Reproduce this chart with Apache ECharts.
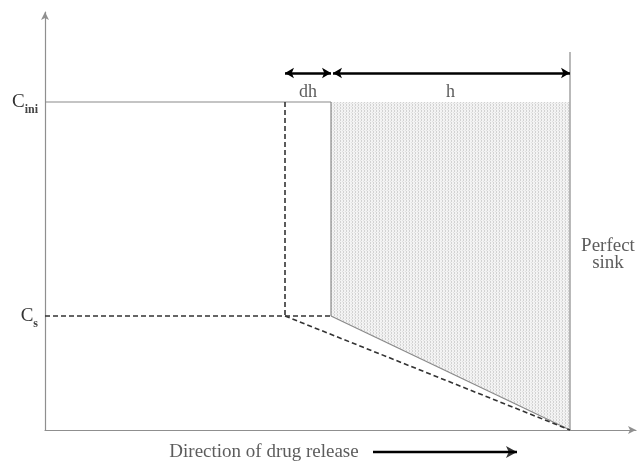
<!DOCTYPE html>
<html>
<head>
<meta charset="utf-8">
<script src="https://cdn.jsdelivr.net/npm/echarts@6/dist/echarts.min.js"></script>
<style>html,body{margin:0;padding:0;background:#fff;}#c{width:639px;height:462px;}</style>
</head>
<body>
<div id="c"></div>
<script>
// ---- data (diagram units) ----
const yTickValues = [114, 328];            // C_s, C_ini
const yTickLabels = ['s', 'ini'];          // subscripts of C
const xBoundaries = [240, 286, 525];       // previous front, current front, perfect sink
const shadeX = [286, 525, 525, 286];
const shadeY = [328, 328, 0, 114];
const sinkTop = 378;
const arrowLevel = 357;
const labelLevel = 338;
const arrowDirY = -22;
const arrowDirX = [328, 472];
const textLabels = ['dh', 'h', 'Perfect\nsink', 'Direction of drug release'];

const cIni = yTickValues[1], cS = yTickValues[0];
const [xPrev, xFront, xSink] = xBoundaries;

// dotted texture
const pc = document.createElement('canvas');
pc.width = 3; pc.height = 3;
const pctx = pc.getContext('2d');
pctx.fillStyle = '#f3f3f3'; pctx.fillRect(0, 0, 3, 3);
pctx.fillStyle = '#d2d2d2'; pctx.fillRect(1, 0, 1, 1); pctx.fillRect(1, 2, 1, 1);
pctx.fillStyle = '#e0e0e0'; pctx.fillRect(0, 1, 1, 1);

const chart = echarts.init(document.getElementById('c'), null, {renderer: 'canvas'});
const FONT = 'Liberation Serif';
const solid = {color: '#8a8a8a', width: 1.2, type: 'solid'};
const dashed = {color: '#333', width: 1.6, type: [5, 3]};

function seg(points, style) {
  return {type: 'line', data: points, symbol: 'none', lineStyle: style, z: 3, clip: false, silent: true};
}

chart.setOption({
  animation: false,
  grid: {left: 45, right: 3, top: 12, bottom: 32},
  xAxis: {
    type: 'value', min: 0, max: 591,
    axisLine: {show: true, lineStyle: {color: '#8f8f8f', width: 1.2}, symbol: ['none', 'arrow'], symbolSize: [6, 8]},
    axisTick: {show: false}, axisLabel: {show: false}, splitLine: {show: false}
  },
  yAxis: {
    type: 'value', min: 0, max: 418,
    axisLine: {show: true, lineStyle: {color: '#8f8f8f', width: 1.2}, symbol: ['none', 'arrow'], symbolSize: [6, 8]},
    axisTick: {show: false}, splitLine: {show: false},
    axisLabel: {
      show: true, margin: 7, customValues: yTickValues,
      formatter: v => '{c|C}{s|' + yTickLabels[yTickValues.indexOf(v)] + '}',
      rich: {
        c: {fontFamily: FONT, fontSize: 19, color: '#333', verticalAlign: 'bottom', lineHeight: 20},
        s: {fontFamily: FONT, fontSize: 12, fontWeight: 'bold', color: '#444', verticalAlign: 'bottom', lineHeight: 16, padding: [0, 0, -4, 0]}
      }
    }
  },
  series: [
    {
      type: 'custom', silent: true, z: 1,
      renderItem: (params, api) => {
        const pts = shadeX.map((x, i) => api.coord([x, shadeY[i]]));
        return {type: 'polygon', shape: {points: pts}, style: {fill: {image: pc, repeat: 'repeat'}, stroke: null}};
      },
      data: [0]
    },
    seg([[0, cIni], [xFront, cIni]], solid),
    seg([[xFront, cIni], [xFront, cS]], solid),
    seg([[xFront, cS], [xSink, 0]], solid),
    seg([[xSink, 0], [xSink, sinkTop]], solid),
    seg([[0, cS], [xFront, cS]], dashed),
    seg([[xPrev, cIni], [xPrev, cS]], dashed),
    seg([[xPrev, cS], [xSink, 0]], dashed),
    {
      type: 'line', data: [], clip: false, silent: true,
      markLine: {
        silent: true, symbol: ['arrow', 'arrow'], symbolSize: [8, 9],
        label: {show: false},
        lineStyle: {color: '#000', width: 2.5, type: 'solid'},
        data: [
          [{coord: [xPrev, arrowLevel]}, {coord: [xFront, arrowLevel]}],
          [{coord: [xFront + 2, arrowLevel]}, {coord: [xSink, arrowLevel]}]
        ]
      }
    },
    seg([[arrowDirX[0], arrowDirY], [arrowDirX[1], arrowDirY]], {color: '#000', width: 2.6, type: 'solid'}),
    {
      type: 'scatter', clip: false, silent: true, z: 4,
      symbol: 'arrow', symbolSize: [9, 11], symbolRotate: -90,
      itemStyle: {color: '#000'},
      data: [[arrowDirX[1], arrowDirY]]
    },
    {
      type: 'scatter', symbolSize: 0, clip: false, silent: true,
      label: {show: true, position: 'inside', fontFamily: FONT, fontSize: 18, color: '#333', lineHeight: 17,
              formatter: p => textLabels[p.dataIndex]},
      data: [
        [(xPrev + xFront) / 2, labelLevel],
        [(xFront + xSink) / 2, labelLevel],
        {value: [563, 175], label: {fontSize: 19}},
        {value: [219, arrowDirY], label: {fontSize: 19}}
      ]
    }
  ]
});
</script>
</body>
</html>
